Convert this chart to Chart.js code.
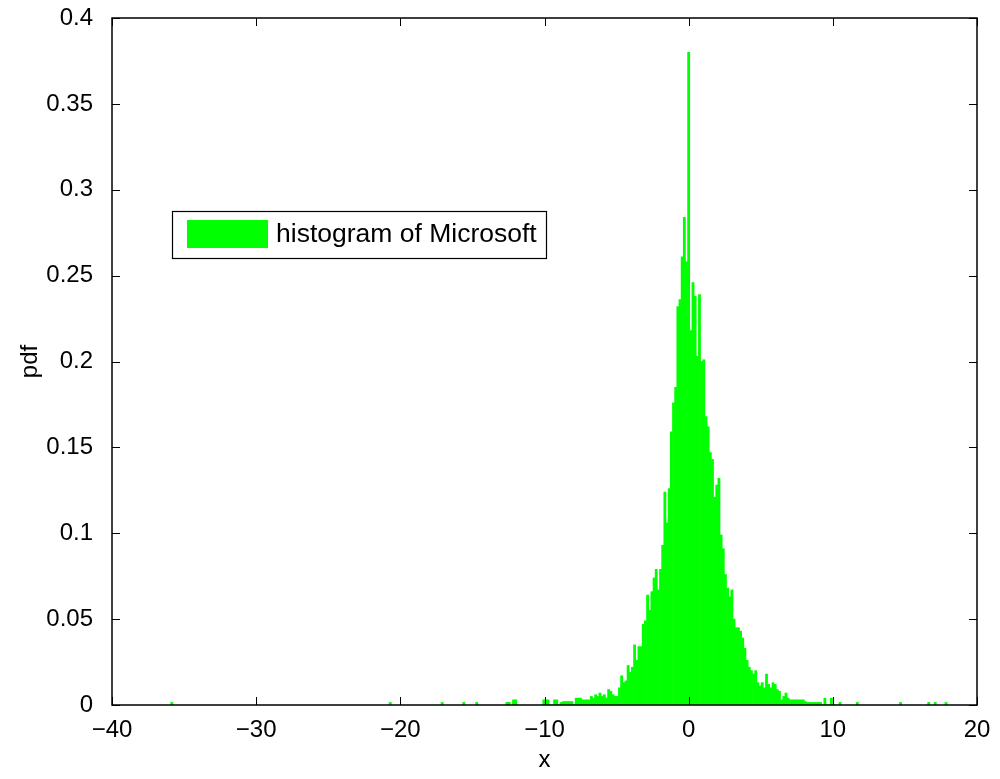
<!DOCTYPE html>
<html>
<head>
<meta charset="utf-8">
<script src="https://cdn.jsdelivr.net/npm/chart.js@4.4.1/dist/chart.umd.min.js"></script>
<style>
  html, body { margin: 0; padding: 0; background: #fff; }
  #wrap { width: 1000px; height: 779px; position: relative; }
</style>
</head>
<body>
<div id="wrap"><canvas id="c" width="1000" height="779"></canvas></div>
<script>
// ---- DATA ----
const seriesLabel = "histogram of Microsoft";
const xTitle = "x";
const yTitle = "pdf";
const binWidth = 0.15;
const binStart = -10.2;   // centre of the first contiguous bin
// densities of the contiguous bins, from x = -10.2 to x = 10.2
const centralDensity = [
  0, 0.003, 0.003, 0.003, 0, 0, 0.003, 0.003, 0, 0.0015,
  0.002, 0.002, 0.002, 0.002, 0.002, 0, 0.004, 0.004, 0.004, 0.003,
  0.003, 0.003, 0.003, 0.005, 0.004, 0.006, 0.005, 0.007, 0.005, 0.006,
  0.004, 0.009, 0.008, 0.006, 0.005, 0.005, 0.010, 0.017, 0.013, 0.014,
  0.023, 0.019, 0.022, 0.035, 0.026, 0.034, 0.034, 0.047, 0.049, 0.064,
  0.055, 0.066, 0.074, 0.079, 0.067, 0.079, 0.093, 0.124, 0.106, 0.126,
  0.159, 0.176, 0.185, 0.232, 0.236, 0.261, 0.284, 0.258, 0.380, 0.218,
  0.246, 0.238, 0.203, 0.239, 0.200, 0.201, 0.168, 0.162, 0.147, 0.143,
  0.121, 0.128, 0.132, 0.099, 0.091, 0.076, 0.068, 0.063, 0.067, 0.050,
  0.045, 0.045, 0.043, 0.039, 0.033, 0.026, 0.022, 0.020, 0.018, 0.020,
  0.013, 0.011, 0.013, 0.010, 0.018, 0.012, 0.010, 0.013, 0.012, 0.009,
  0.008, 0.003, 0.005, 0.007, 0.004, 0.003, 0.003, 0.003, 0.003, 0.003,
  0.003, 0.003, 0.002, 0.0015, 0.0015, 0.0015, 0.0015, 0.0015, 0.0015, 0.0015,
  0, 0.004, 0, 0, 0.004, 0, 0
];
// isolated tail bins
const tailX = [-35.85, -20.7, -17.1, -15.6, -14.7, -12.6, -12.45, -12.15, -12.0,
               10.5, 11.7, 14.7, 16.65, 17.1, 17.85];
const tailDensity = [0.0015, 0.0015, 0.0015, 0.0015, 0.0015, 0.0015, 0.0015, 0.003, 0.003,
                     0.0015, 0.0015, 0.0015, 0.0015, 0.0015, 0.0015];
const xTicks = [-40, -30, -20, -10, 0, 10, 20];
const yTicks = [0, 0.05, 0.1, 0.15, 0.2, 0.25, 0.3, 0.35, 0.4];

// ---- BUILD ----
const points = [];
tailX.forEach((x, i) => { if (x < binStart) points.push({ x: x, y: tailDensity[i] }); });
centralDensity.forEach((d, i) => points.push({ x: +(binStart + i * binWidth).toFixed(2), y: d }));
tailX.forEach((x, i) => { if (x > binStart) points.push({ x: x, y: tailDensity[i] }); });

const FONT = "'Liberation Sans', Arial, Helvetica, sans-serif";
const GREEN = '#00ff00';

const frameTicks = {
  id: 'frameTicks',
  afterDatasetsDraw(chart) {
    const { ctx, chartArea: a, scales } = chart;
    ctx.save();
    ctx.strokeStyle = '#000';
    ctx.lineWidth = 1.5;
    ctx.strokeRect(a.left, a.top, a.right - a.left, a.bottom - a.top);
    ctx.lineWidth = 1;
    const L = 8;
    ctx.beginPath();
    xTicks.forEach(v => {
      const px = Math.round(scales.x.getPixelForValue(v)) + 0.5;
      ctx.moveTo(px, a.bottom); ctx.lineTo(px, a.bottom - L);
      ctx.moveTo(px, a.top); ctx.lineTo(px, a.top + L);
    });
    yTicks.forEach(v => {
      const py = Math.round(scales.y.getPixelForValue(v)) + 0.5;
      ctx.moveTo(a.left, py); ctx.lineTo(a.left + L, py);
      ctx.moveTo(a.right, py); ctx.lineTo(a.right - L, py);
    });
    ctx.stroke();

    // legend box
    const bx = 172, by = 211, bw = 374, bh = 47;
    ctx.fillStyle = '#fff';
    ctx.fillRect(bx, by, bw, bh);
    ctx.lineWidth = 1.2;
    ctx.strokeRect(bx + 0.5, by + 0.5, bw, bh);
    ctx.fillStyle = GREEN;
    ctx.fillRect(bx + 15, by + 9, 81, 28);
    ctx.fillStyle = '#000';
    ctx.font = '26.5px ' + FONT;
    ctx.textBaseline = 'middle';
    ctx.textAlign = 'left';
    ctx.fillText(chart.data.datasets[0].label, bx + 104, by + 24);
    ctx.restore();
  }
};

new Chart(document.getElementById('c'), {
  type: 'bar',
  data: {
    datasets: [{
      label: seriesLabel,
      data: points,
      backgroundColor: GREEN,
      borderWidth: 0,
      barPercentage: 1.0,
      categoryPercentage: 1.0
    }]
  },
  options: {
    responsive: false,
    animation: false,
    devicePixelRatio: 1,
    layout: { padding: { top: 18, right: 23, left: 0, bottom: 0 } },
    plugins: { legend: { display: false }, tooltip: { enabled: false } },
    scales: {
      x: {
        type: 'linear',
        offset: false,
        min: -40, max: 20,
        afterBuildTicks(scale) { scale.ticks = xTicks.map(v => ({ value: v })); },
        afterFit(scale) { scale.height = 74; scale.paddingLeft = 0; scale.paddingRight = 0; },
        grid: { display: false, offset: false },
        border: { display: false },
        ticks: {
          color: '#000',
          font: { family: FONT, size: 24 },
          padding: 3,
          maxRotation: 0,
          callback: v => (v < 0 ? '\u2212' + Math.abs(v) : '' + v)
        },
        title: {
          display: true, text: xTitle, color: '#000',
          font: { family: FONT, size: 24 },
          padding: { top: 0, bottom: 4 }
        }
      },
      y: {
        type: 'linear',
        min: 0, max: 0.4,
        afterBuildTicks(scale) { scale.ticks = yTicks.map(v => ({ value: v })); },
        afterFit(scale) { scale.width = 112; scale.paddingTop = 0; scale.paddingBottom = 0; },
        grid: { display: false },
        border: { display: false },
        ticks: {
          color: '#000',
          font: { family: FONT, size: 24 },
          padding: 11,
          callback: v => '' + parseFloat(Number(v).toFixed(2))
        },
        title: {
          display: true, text: yTitle, color: '#000',
          font: { family: FONT, size: 24 },
          padding: { top: 16, bottom: 0 }
        }
      }
    }
  },
  plugins: [frameTicks]
});
</script>
</body>
</html>
